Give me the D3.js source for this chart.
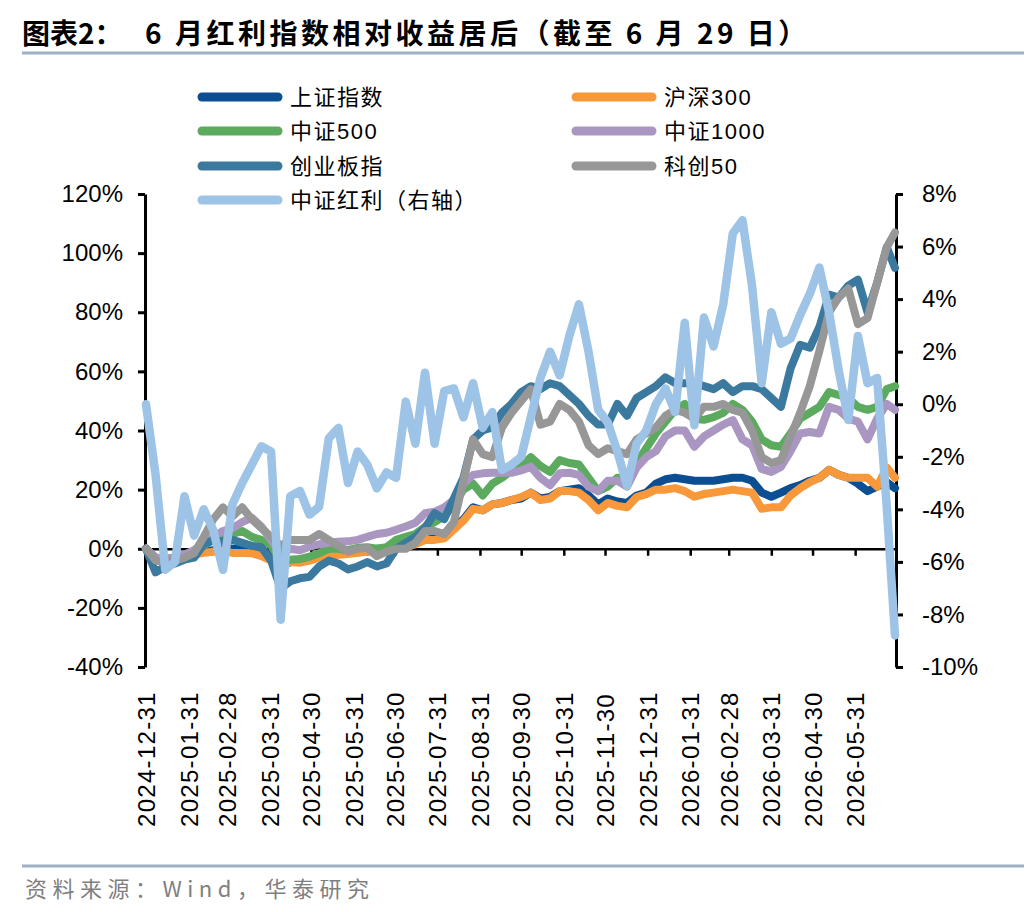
<!DOCTYPE html>
<html>
<head>
<meta charset="utf-8">
<script src="https://cdn.jsdelivr.net/npm/d3@7"></script>
<style>
  body { margin: 0; background: #fff; }
  svg { display: block; }
  text { font-family: "Liberation Sans", Arial, "Noto Sans CJK SC", sans-serif; }
</style>
</head>
<body>
<script>
// weekly points from 2024-12-31, last point 2026-06-29
const startDate = "2024-12-31";
const endDate = "2026-06-29";

// left axis, cumulative return %
const shIndex = [0,-3,-3.5,-3,-2.5,-2,-1,-0.5,0.5,0,0,-0.5,-1,-2,-6,-4.5,-4,-3.5,-2.5,-2,-1.5,-1,-1.2,-1,0,0,0.5,1.5,2,3,3.5,4,7,10,14,13,15,15.5,16.5,17,19,17,17.5,19.5,20,20.5,18,15,17,16,15.5,18,19,22,23.5,24,23.5,23,23,23,23.5,24,24,23,19,17.6,19,20.5,21.5,23,24,26.7,25,24,22,19.5,21,22.5,20.5];
const hs300 = [0,-3,-3.5,-3,-2.5,-2,-1.4,-1,-1,-1.4,-1.4,-1.5,-2.5,-4,-6,-4.5,-4.7,-4,-3,-2.7,-2,-1.8,-1.4,-1,-0.5,0,0,0.7,1.5,3,3,3.5,6.5,9.5,13.5,13,15,15.5,16.5,17.5,19,16.5,17,19.5,19.5,19,16.5,13,15.5,14.5,14,17.5,18.5,20,20,20.5,19.5,17.6,18.5,19,19.5,20,19.5,19,13.5,14,14,18,20.5,22.5,24,26.7,25,24,24,24,21,27.5,24];
const zz500 = [0,-3,-3.5,-3,-2,-1,1,3,5,5,6,4,3,1,-4,-3.7,-3.5,-2.7,-1.5,0,0,-0.5,0.3,0.5,0,0.5,3,4,5,7.4,9,11,15,20,22,18,22,24,26.5,28,31,28,26,30,29,28.5,24,19.5,21,24,24,29,34,39,43,47,49,44,43.6,44.5,46,49,47,43,37,35,34.5,39,44,46,48,53,52,51,48,47,48,54,55];
const zz1000 = [0,-3,-3.5,-3,-2,-0.5,2,4,6,7,9,10.5,7.5,3,-2,0,-0.5,0.7,1.5,2,2.4,2.5,3,4,5,5.4,6.4,7.5,8.8,12,12.5,14,16.5,22,25,25.5,25.7,25.7,25.7,26.5,27.7,24,21.5,25.5,25.7,25,21,19.5,23,23,21,27.5,31,33,38,40,40,34.5,38,40,42,43.5,37,35,27,26,27.7,33,39,39.5,39,48,47,44,43,37,44,49,47];
const cybIndex = [0,-8,-6,-5,-3.7,-3,1.5,3,2.5,3,2,1,0.5,-4,-13.5,-11,-10,-9.5,-6,-4,-5,-7,-6,-4.5,-6,-5,0,2,4,7,12,10,17,24,37,40,41,46,49,53,55,54,56,55,52,49,45,42,42,49,45,51,53,55,58,56,56,56,55,54,56,53,55,55,54,51,48,61,69,68,75,86,85,89,91,80,90,102,95];
const kc50 = [0,-4,-4.5,-4,-3,-1.5,4,10,14,11,14,10,7,4,1,3,3,3,5,3,1,-1,0,0.3,-2.5,-1,0,0,2,6,6,5,9,23,37,32,31,41,46,50,54,42,43,49,47,43,35,32,34,33,32,37,39,41,45,47,46,44,48,48,49,47,46,40,31,29,30,38,46,55,67,80,85,88,76,78,90,102,107];
// right axis, relative return %
const dividend = [0,-2.7,-6.3,-6,-3.5,-5,-4,-4.8,-6.3,-3.8,-3,-2.3,-1.6,-1.8,-8.2,-3.5,-3.3,-4.2,-3.9,-1.3,-0.9,-3,-1.8,-2.3,-3.2,-2.6,-2.8,0.1,-1.5,1.2,-1.5,0.5,0.6,-0.5,0.8,-0.9,-0.3,-2.5,-2.3,-2,-0.5,1,2,1.1,2.6,3.8,2,-0.2,-0.7,-1.8,-3.1,-1.5,-1,0,0.6,-0.3,3.1,-0.8,3.3,2.2,3.8,6.5,7,4.5,0.8,3.5,2.3,2.5,3.4,4.2,5.2,3.5,1.3,-0.6,2.6,0.8,1,-3.9,-8.8];

const seriesNames = ["上证指数","沪深300","中证500","中证1000","创业板指","科创50","中证红利（右轴）"];
const seriesColors = ["#0B4F92","#F7983A","#5BAA5E","#A996C1","#3B7A9E","#979797","#9DC3E6"];

const leftTicks = [-40,-20,0,20,40,60,80,100,120];
const rightTicks = [-10,-8,-6,-4,-2,0,2,4,6,8];
const monthTicks = ["2024-12-31","2025-01-31","2025-02-28","2025-03-31","2025-04-30","2025-05-31","2025-06-30","2025-07-31","2025-08-31","2025-09-30","2025-10-31","2025-11-30","2025-12-31","2026-01-31","2026-02-28","2026-03-31","2026-04-30","2026-05-31"];

const W = 1036, H = 912;
const plot = {left: 146, right: 895, top: 194, bottom: 667};
const parse = d3.timeParse("%Y-%m-%d");

const svg = d3.select("body").append("svg")
    .attr("width", W)
    .attr("height", H);

// title + rules
svg.append("text")
    .attr("x", 22).attr("y", 44)
    .style("font-family", '"Noto Sans CJK SC", sans-serif')
    .style("font-weight", "700")
    .style("font-size", "28px")
    .attr("fill", "#000")
    .text("图表2：");
svg.append("text")
    .attr("x", 145).attr("y", 44)
    .style("font-family", '"Noto Sans CJK SC", sans-serif')
    .style("font-weight", "700")
    .style("font-size", "28px")
    .style("letter-spacing", "3.5px")
    .attr("fill", "#000")
    .text("6 月红利指数相对收益居后（截至 6 月 29 日）");

svg.append("line")
    .attr("x1", 22).attr("x2", 1024).attr("y1", 53).attr("y2", 53)
    .attr("stroke", "#9DB0C6").attr("stroke-width", 3);

svg.append("line")
    .attr("x1", 22).attr("x2", 1024).attr("y1", 866).attr("y2", 866)
    .attr("stroke", "#9DB0C6").attr("stroke-width", 3);

svg.append("text")
    .attr("x", 25).attr("y", 897)
    .style("font-family", '"Noto Sans CJK SC", sans-serif')
    .style("font-size", "22px")
    .style("letter-spacing", "5.5px")
    .attr("fill", "#7f7f7f")
    .text("资料来源：Wind，华泰研究");

// scales
const dates = d3.range(shIndex.length - 1).map(i => d3.timeDay.offset(parse(startDate), 7 * i));
dates.push(parse(endDate));

const x = d3.scaleTime()
    .domain([parse(startDate), parse(endDate)])
    .range([plot.left, plot.right]);
const yL = d3.scaleLinear().domain([-40, 120]).range([plot.bottom, plot.top]);
const yR = d3.scaleLinear().domain([-10, 8]).range([plot.bottom, plot.top]);

const tickFont = "24px";

// left axis
const gL = svg.append("g").attr("transform", "translate(" + (plot.left - 1) + ",0)");
gL.call(d3.axisLeft(yL).tickValues(leftTicks).tickSize(7).tickSizeOuter(0).tickFormat(d => d + "%"));
gL.select(".domain").attr("stroke", "#000").attr("stroke-width", 3);
gL.selectAll(".tick line").attr("stroke", "#000").attr("stroke-width", 3);
gL.selectAll(".tick text")
    .attr("x", -22)
    .style("font-size", tickFont)
    .style("font-family", '"Liberation Sans", Arial, sans-serif')
    .attr("fill", "#000");

// right axis
const gR = svg.append("g").attr("transform", "translate(" + (plot.right + 1) + ",0)");
gR.call(d3.axisRight(yR).tickValues(rightTicks).tickSize(7).tickSizeOuter(0).tickFormat(d => d + "%"));
gR.select(".domain").attr("stroke", "#000").attr("stroke-width", 3);
gR.selectAll(".tick line").attr("stroke", "#000").attr("stroke-width", 3);
gR.selectAll(".tick text")
    .attr("x", 26)
    .style("font-size", tickFont)
    .style("font-family", '"Liberation Sans", Arial, sans-serif')
    .attr("fill", "#000");

// x axis along the 0% line, labels at the bottom
const gX = svg.append("g").attr("transform", "translate(0," + yL(0) + ")");
gX.call(d3.axisBottom(x).tickValues(monthTicks.map(parse)).tickSize(7).tickSizeOuter(0).tickFormat(""));
gX.select(".domain").attr("stroke", "#000").attr("stroke-width", 2.5);
gX.selectAll(".tick line").attr("stroke", "#000").attr("stroke-width", 2.5);

svg.append("g")
    .selectAll("text")
    .data(monthTicks)
    .join("text")
    .attr("transform", d => "translate(" + (x(parse(d)) + 9) + ",827) rotate(-90)")
    .attr("text-anchor", "start")
    .style("font-size", tickFont)
    .style("letter-spacing", "1.3px")
    .style("font-family", '"Liberation Sans", Arial, sans-serif')
    .attr("fill", "#000")
    .text(d => d);

// lines
const leftSeries = [shIndex, hs300, zz500, zz1000, cybIndex, kc50];
const lineL = d3.line().x((d, i) => x(dates[i])).y(d => yL(d));
const lineR = d3.line().x((d, i) => x(dates[i])).y(d => yR(d));

const gLines = svg.append("g");
leftSeries.forEach(function (s, i) {
    gLines.append("path")
        .datum(s)
        .attr("fill", "none")
        .attr("stroke", seriesColors[i])
        .attr("stroke-width", 8)
        .attr("stroke-linejoin", "round")
        .attr("stroke-linecap", "round")
        .attr("d", lineL);
});
gLines.append("path")
    .datum(dividend)
    .attr("fill", "none")
    .attr("stroke", seriesColors[6])
    .attr("stroke-width", 8.5)
    .attr("stroke-linejoin", "round")
    .attr("stroke-linecap", "round")
    .attr("d", lineR);

// legend, two columns
const legendPos = [
    {x: 198, y: 97}, {x: 572, y: 97},
    {x: 198, y: 131}, {x: 572, y: 131},
    {x: 198, y: 166}, {x: 572, y: 166},
    {x: 198, y: 200}
];
const legend = svg.append("g");
seriesNames.forEach(function (name, i) {
    const p = legendPos[i];
    legend.append("line")
        .attr("x1", p.x + 4).attr("x2", p.x + 80)
        .attr("y1", p.y).attr("y2", p.y)
        .attr("stroke", seriesColors[i])
        .attr("stroke-width", 9)
        .attr("stroke-linecap", "round");
    legend.append("text")
        .attr("x", p.x + 92).attr("y", p.y + 8)
        .style("font-family", '"Liberation Sans", "Noto Sans CJK SC", sans-serif')
        .style("font-size", "22px")
        .style("letter-spacing", "1.5px")
        .attr("fill", "#000")
        .text(name);
});
</script>
</body>
</html>
